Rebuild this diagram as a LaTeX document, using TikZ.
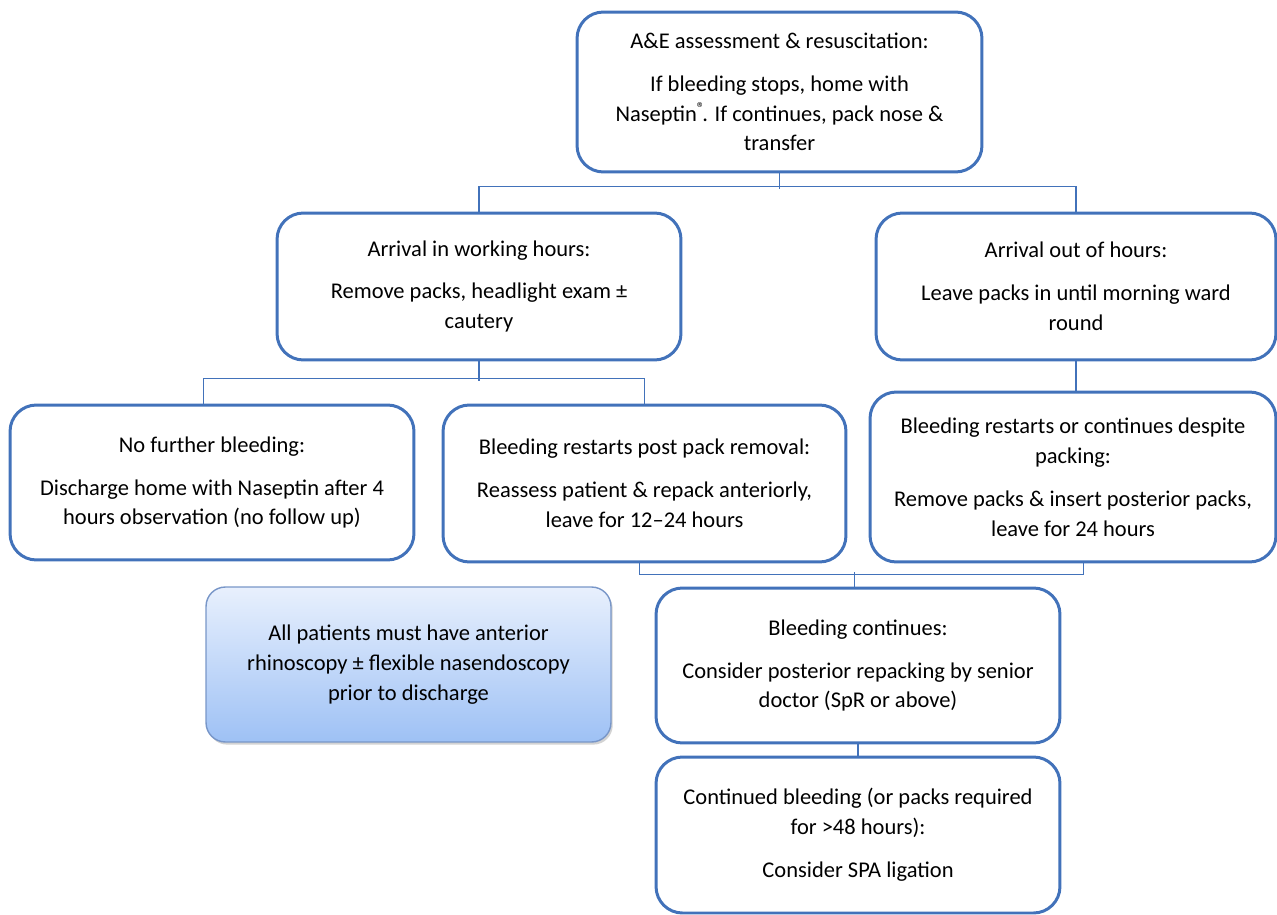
\documentclass[tikz,border=0pt]{standalone}
\usepackage{fontspec}
\setmainfont{Carlito}
\usetikzlibrary{calc, shadows}
\definecolor{boxblue}{RGB}{66,114,186}
\definecolor{noteedge}{RGB}{120,150,200}
\definecolor{notetop}{RGB}{232,240,253}
\definecolor{notebottom}{RGB}{158,193,245}
\tikzset{
  font=\fontsize{12.8}{17}\selectfont,
  % Step of the pathway
  stepbox/.style={draw=boxblue, line width=1.7pt, fill=white, shape=rectangle,
    rounded corners=15pt, align=center, inner sep=0pt},
  % Reminder box
  notebox/.style={draw=noteedge, line width=0.8pt, rounded corners=11pt,
    top color=notetop, bottom color=notebottom, align=center, inner sep=0pt,
    drop shadow={shadow xshift=1pt, shadow yshift=-1.5pt, opacity=0.35}},
  % Connectors
  link/.style={draw=boxblue, line width=0.7pt},
}
\newcommand{\headgap}{\\[7.4pt]}

\begin{document}
\begin{tikzpicture}[x=0.02cm, y=-0.02cm]
  \useasboundingbox (0,0) rectangle (1277,915);

  \node[stepbox, minimum width=8.1cm, minimum height=3.2cm] (ae) at (779.5,92)
    {A\&E assessment \& resuscitation:\headgap
     If bleeding stops, home with\\
     Naseptin\textsuperscript{®}\kern-2pt. If continues, pack nose \&\\
     transfer};

  \node[stepbox, minimum width=8.08cm, minimum height=2.94cm] (work) at (479,286.5)
    {Arrival in working hours:\headgap
     Remove packs, headlight exam ±\\
     cautery};
  \node[stepbox, minimum width=8.0cm, minimum height=2.94cm] (out) at (1076,286.5)
    {Arrival out of hours:\headgap
     Leave packs in until morning ward\\
     round};

  \node[stepbox, minimum width=8.08cm, minimum height=3.1cm] (nofurther) at (212,482.5)
    {No further bleeding:\headgap
     Discharge home with Naseptin after 4\\
     hours observation (no follow up)};
  \node[stepbox, minimum width=8.06cm, minimum height=3.14cm] (restart) at (644.5,483.5)
    {Bleeding restarts post pack removal:\headgap
     Reassess patient \& repack anteriorly,\\
     leave for 12–24 hours};
  \node[stepbox, minimum width=8.12cm, minimum height=3.4cm] (despite) at (1073,477)
    {Bleeding restarts or continues despite\\
     packing:\headgap
     Remove packs \& insert posterior packs,\\
     leave for 24 hours};

  \node[notebox, minimum width=8.1cm, minimum height=3.1cm] (note) at (408.5,664.5)
    {All patients must have anterior\\
     rhinoscopy ± flexible nasendoscopy\\
     prior to discharge};

  \node[stepbox, minimum width=8.08cm, minimum height=3.1cm] (cont) at (858,665.5)
    {Bleeding continues:\headgap
     Consider posterior repacking by senior\\
     doctor (SpR or above)};
  \node[stepbox, minimum width=8.08cm, minimum height=3.12cm] (spa) at (858,835)
    {Continued bleeding (or packs required\\
     for >48 hours):\headgap
     Consider SPA ligation};

  % connectors
  \draw[link] (ae.south) -- ++(0,16);
  \draw[link] (work.north) -- ++(0,-25) -| (out.north);
  \draw[link] (work.south) -- ++(0,20);
  \draw[link] ([xshift=-5]nofurther.north) -- ++(0,-25) -| (restart.north);
  \draw[link] (out.south) -- (out.south |- despite.north);
  \draw[link] ([xshift=-3]restart.south) -- ++(0,11) -| ([xshift=6]despite.south);
  \draw[link] ([xshift=-2]cont.north) -- ++(0,-15);
  \draw[link] (cont.south) -- (spa.north);
\end{tikzpicture}
\end{document}
